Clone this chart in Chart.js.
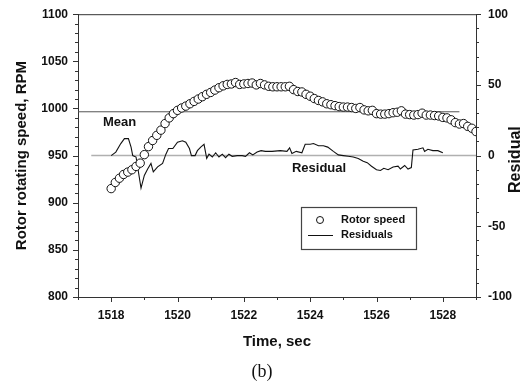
<!DOCTYPE html>
<html>
<head>
<meta charset="utf-8">
<script src="https://cdn.jsdelivr.net/npm/chart.js@4/dist/chart.umd.min.js"></script>
<style>
html,body{margin:0;padding:0;background:#fff;}
canvas{display:block;}
</style>
</head>
<body>
<canvas id="c" width="524" height="389"></canvas>
<script>
// ---- data ----
const rpmTimes = [1518.000,1518.125,1518.250,1518.375,1518.500,1518.625,1518.750,1518.875,1519.000,1519.125,1519.250,1519.375,1519.500,1519.625,1519.750,1519.875,1520.000,1520.125,1520.250,1520.375,1520.500,1520.625,1520.750,1520.875,1521.000,1521.125,1521.250,1521.375,1521.500,1521.625,1521.750,1521.875,1522.000,1522.125,1522.250,1522.375,1522.500,1522.625,1522.750,1522.875,1523.000,1523.125,1523.250,1523.375,1523.500,1523.625,1523.750,1523.875,1524.000,1524.125,1524.250,1524.375,1524.500,1524.625,1524.750,1524.875,1525.000,1525.125,1525.250,1525.375,1525.500,1525.625,1525.750,1525.875,1526.000,1526.125,1526.250,1526.375,1526.500,1526.625,1526.750,1526.875,1527.000,1527.125,1527.250,1527.375,1527.500,1527.625,1527.750,1527.875,1528.000,1528.125,1528.250,1528.375,1528.500,1528.625,1528.750,1528.875,1529.000];
const rpmValues = [915,921.5,926,930,932.5,935,938.5,942,951,959.5,966,971.5,977,984,990,994.5,998,1000.5,1002.5,1005,1007.5,1010,1012.5,1015,1017,1019.5,1022,1024,1025.5,1026,1027.5,1025.5,1026,1026.5,1027,1025,1026.5,1025,1023.5,1023,1023,1023,1023,1023.5,1020,1018,1017.5,1015,1013,1010.5,1008.5,1007,1005,1004,1003,1002,1001.5,1001.5,1001,1000,1001,998.5,997.5,998,994.5,994,994,994.5,995.5,996,997.5,994,993.5,993,993.5,995,993,993,992.5,992,990.5,990,988,985,983.5,984,981,979,975.5];

const residTimes = [1518.00,1518.14,1518.29,1518.40,1518.52,1518.60,1518.65,1518.75,1518.90,1519.00,1519.10,1519.20,1519.27,1519.40,1519.55,1519.65,1519.73,1519.86,1520.00,1520.15,1520.25,1520.36,1520.42,1520.53,1520.60,1520.70,1520.80,1520.88,1520.95,1521.05,1521.15,1521.25,1521.35,1521.45,1521.55,1521.65,1521.80,1521.95,1522.05,1522.17,1522.27,1522.40,1522.52,1522.65,1522.85,1523.10,1523.30,1523.38,1523.45,1523.58,1523.75,1523.85,1524.00,1524.10,1524.25,1524.40,1524.53,1524.70,1524.85,1525.00,1525.15,1525.30,1525.45,1525.60,1525.72,1525.85,1526.00,1526.12,1526.22,1526.35,1526.50,1526.65,1526.72,1526.85,1526.95,1527.05,1527.10,1527.25,1527.40,1527.45,1527.55,1527.70,1527.85,1528.00];
const residValues = [0,2.5,8.5,12,12,6,0,-1,-23,-14,-9.5,-5.5,-11.5,-8,-5.5,1,5,5,9.5,10.5,9.5,5,0,0,3.5,6,8,-2,1,-1,2,-1,1,-1.5,1,-0.5,0,0,-0.5,2,0.5,2.5,3.5,3,3,3.5,3,5.5,1.5,3,2,8,8,8.5,7,7,6,3,0.5,0,-0.5,-1,-2,-4,-5,-7.5,-10,-10.5,-9,-10,-8,-7.5,-9.5,-7,-9.5,-8.5,4,4.5,5.5,3,4.5,3.5,3.5,2];

const meanValue = 996.5;
const meanSpan = [1517, 1528.5];
const zeroSpan = [1517.4, 1529];

const xTickLabels = [1518,1520,1522,1524,1526,1528];
const yTickLabels = [800,850,900,950,1000,1050,1100];
const y1TickLabels = [-100,-50,0,50,100];

// ---- build ----
const FONT = "'Liberation Sans', Arial, sans-serif";
const rpmData = rpmTimes.map((t,i)=>({x:t,y:rpmValues[i]}));
const residData = residTimes.map((t,i)=>({x:t,y:residValues[i]}));
const meanData = meanSpan.map(t=>({x:t,y:meanValue}));
const zeroData = zeroSpan.map(t=>({x:t,y:0}));

const decor = {
  id:'decor',
  afterDraw(chart){
    const ctx = chart.ctx, a = chart.chartArea;
    const sx = chart.scales.x, sy = chart.scales.y, sy1 = chart.scales.y1;
    ctx.save();
    ctx.strokeStyle = '#333'; ctx.lineWidth = 1;
    // top frame
    ctx.beginPath(); ctx.moveTo(a.left, a.top+0.5); ctx.lineTo(a.right, a.top+0.5); ctx.stroke();
    // ticks
    ctx.beginPath();
    sx.ticks.forEach((t,i)=>{
      const p = Math.round(sx.getPixelForTick(i))+0.5;
      const L = xTickLabels.includes(t.value) ? 5 : 3;
      ctx.moveTo(p, a.bottom); ctx.lineTo(p, a.bottom+L);
    });
    sy.ticks.forEach((t,i)=>{
      const p = Math.round(sy.getPixelForTick(i))+0.5;
      const L = yTickLabels.includes(t.value) ? 5 : 3;
      ctx.moveTo(a.left, p); ctx.lineTo(a.left-L, p);
    });
    sy1.ticks.forEach((t,i)=>{
      const p = Math.round(sy1.getPixelForTick(i))+0.5;
      const L = y1TickLabels.includes(t.value) ? 5 : 3;
      ctx.moveTo(a.right, p); ctx.lineTo(a.right+L, p);
    });
    ctx.stroke();

    // annotations
    ctx.fillStyle = '#111';
    ctx.font = 'bold 13px ' + FONT;
    ctx.textBaseline = 'middle'; ctx.textAlign = 'left';
    ctx.fillText('Mean', sx.getPixelForValue(1517.75), sy.getPixelForValue(985));
    ctx.fillText('Residual', sx.getPixelForValue(1523.45), sy1.getPixelForValue(-8.8));

    // right axis title (reads bottom-to-top)
    ctx.save();
    ctx.font = 'bold 16px ' + FONT;
    ctx.textAlign = 'center';
    ctx.translate(516, (a.top+a.bottom)/2 + 4);
    ctx.rotate(-Math.PI/2);
    ctx.fillText('Residual', 0, 0);
    ctx.restore();

    // legend
    const bx = 301.5, by = 207.5, bw = 115, bh = 42;
    ctx.strokeStyle = '#444'; ctx.lineWidth = 1.2;
    ctx.strokeRect(bx, by, bw, bh);
    ctx.lineWidth = 1; ctx.strokeStyle = '#111';
    ctx.fillStyle = '#fff';
    ctx.beginPath(); ctx.arc(320, 220, 3.5, 0, Math.PI*2); ctx.fill(); ctx.stroke();
    ctx.beginPath(); ctx.moveTo(308, 235.5); ctx.lineTo(333, 235.5); ctx.stroke();
    ctx.fillStyle = '#111';
    ctx.font = 'bold 11px ' + FONT;
    ctx.fillText('Rotor speed', 341, 220);
    ctx.fillText('Residuals', 341, 235);
    ctx.restore();
  }
};

new Chart(document.getElementById('c'), {
  type: 'line',
  data: {
    datasets: [
      {label:'Rotor speed', data: rpmData, yAxisID:'y', showLine:false,
       pointRadius:4.2, pointStyle:'circle', pointBackgroundColor:'#fff',
       pointBorderColor:'#111', pointBorderWidth:1, order:0},
      {label:'Residuals', data: residData, yAxisID:'y1', borderColor:'#111',
       borderWidth:1.1, pointRadius:0, tension:0, fill:false, order:1},
      {label:'Mean', data: meanData, yAxisID:'y', borderColor:'#555',
       borderWidth:1, pointRadius:0, fill:false, order:2},
      {label:'Zero', data: zeroData, yAxisID:'y1', borderColor:'#b0b0b0',
       borderWidth:1.5, pointRadius:0, fill:false, order:3}
    ]
  },
  options: {
    responsive:false, animation:false, devicePixelRatio:1,
    layout:{padding:{top:12.7, left:0, right:0, bottom:0}},
    plugins:{
      legend:{display:false}, tooltip:{enabled:false},
      title:{display:true, position:'bottom', text:'(b)', color:'#111',
        font:{family:"'Liberation Serif', 'Times New Roman', serif", size:18, weight:'normal', lineHeight:1.2},
        padding:{top:2, bottom:6}}
    },
    scales:{
      x:{type:'linear', min:1517, max:1529,
        afterFit(s){ s.height = 62.4; },
        ticks:{stepSize:1, autoSkip:false, maxRotation:0, padding:6, color:'#111',
          font:{family:FONT, size:12, weight:'bold'},
          callback:v=> xTickLabels.includes(v) ? String(v) : ''},
        grid:{display:true, drawOnChartArea:false, drawTicks:true, tickLength:5, color:'rgba(0,0,0,0)'},
        border:{display:true, color:'#333', width:1},
        title:{display:true, text:'Time, sec', color:'#111',
          font:{family:FONT, size:15, weight:'bold', lineHeight:1.2}, padding:{top:0, bottom:8.4}}
      },
      y:{type:'linear', position:'left', min:800, max:1100,
        afterFit(s){ s.width = 78; },
        ticks:{stepSize:10, autoSkip:false, padding:5, color:'#111',
          font:{family:FONT, size:12, weight:'bold'},
          callback:v=> yTickLabels.includes(v) ? String(v) : ''},
        grid:{display:true, drawOnChartArea:false, drawTicks:true, tickLength:5, color:'rgba(0,0,0,0)'},
        border:{display:true, color:'#333', width:1},
        title:{display:true, text:'Rotor rotating speed, RPM', color:'#111',
          font:{family:FONT, size:15, weight:'bold', lineHeight:1.2}, padding:{top:13, bottom:0}}
      },
      y1:{type:'linear', position:'right', min:-100, max:100,
        afterFit(s){ s.width = 48; },
        ticks:{stepSize:10, autoSkip:false, padding:7, color:'#111',
          font:{family:FONT, size:12, weight:'bold'},
          callback:v=> y1TickLabels.includes(v) ? String(v) : ''},
        grid:{display:true, drawOnChartArea:false, drawTicks:true, tickLength:5, color:'rgba(0,0,0,0)'},
        border:{display:true, color:'#333', width:1},
        title:{display:false}
      }
    }
  },
  plugins:[decor]
});
</script>
</body>
</html>
